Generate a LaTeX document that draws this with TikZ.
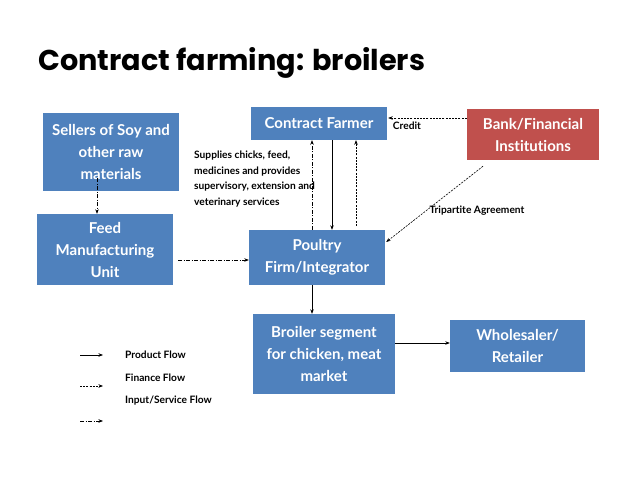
\documentclass[tikz,border=0pt]{standalone}
\usepackage{fontspec}
\setmainfont{Lato}[Ligatures={NoCommon}]
\newfontfamily\titlefont{Poppins}
\usetikzlibrary{arrows.meta,calc}
\definecolor{boxblue}{HTML}{4F81BD}
\definecolor{boxred}{HTML}{C0504D}
\tikzset{
  box/.style={fill=boxblue, text=white, align=center, inner sep=0pt,
    font=\bfseries\fontsize{15}{22}\selectfont},
  redbox/.style={box, fill=boxred},
  small/.style={font=\bfseries\fontsize{10.2}{15.5}\selectfont, inner sep=0pt},
  tip/.style={-{Stealth[length=4.5pt,width=3.5pt]}, line width=0.6pt},
  product/.style={tip},
  finance/.style={tip, dash pattern=on 2pt off 1.2pt},
  inflow/.style={tip, dash pattern=on 4pt off 1.5pt on 1pt off 1.5pt},
}
\begin{document}
\begin{tikzpicture}[x=1pt,y=-1pt]
\useasboundingbox (0,0) rectangle (638,479);
\node[anchor=base west, inner sep=0pt, font=\titlefont\bfseries\fontsize{28.7}{30}\selectfont] (title) at (38,70) {Contract farming: broilers};

\node[box, minimum width=136pt, minimum height=78pt] (sellers) at (111,152) {Sellers of Soy and\\other raw\\materials};
\node[box, minimum width=136pt, minimum height=71pt] (feed) at (105,249.5) {Feed\\Manufacturing\\Unit};
\node[box, minimum width=136pt, minimum height=33pt] (cf) at (319,123.5) {Contract Farmer};
\node[redbox, minimum width=132pt, minimum height=51pt] (bank) at (533,134.5) {Bank/Financial\\Institutions};
\node[box, minimum width=136pt, minimum height=55pt] (poultry) at (317,257.5) {Poultry\\Firm/Integrator};
\node[box, minimum width=142pt, minimum height=80pt] (broiler) at (324,354) {Broiler segment\\for chicken, meat\\market};
\node[box, minimum width=135pt, minimum height=52pt] (whole) at (517.5,346) {Wholesaler/\\Retailer};

\node[small, anchor=north west, align=left] (supplies) at (194,151) {Supplies chicks, feed,\\medicines and provides\\supervisory, extension and\\veterinary services};
\node[small] (credit) at (407,126) {Credit};
\node[small] (tri) at (477,211) {Tripartite Agreement};

% connectors
\draw[inflow] ([xshift=-14pt,yshift=13pt]sellers.south) -- ([xshift=-8pt]feed.north);
\draw[inflow] ($(feed.east)+(5,10.5)$) -- ($(poultry.west)+(0,2.5)$);
\draw[inflow] ([xshift=-5pt]poultry.north) -- ([xshift=-5pt]poultry.north |- cf.south);
\draw[product] ([xshift=15pt]poultry.north |- cf.south) -- ([xshift=15pt]poultry.north);
\draw[finance] ($(poultry.north)+(39,-4)$) -- ([xshift=39pt]poultry.north |- cf.south);
\draw[finance] ($(bank.west |- cf.east)+(0,-5.5)$) -- ($(cf.east)+(1,-5.5)$);
\draw[finance] ($(bank.south)+(-50,6)$) -- ($(poultry.east)+(1,-15.5)$);
\draw[product] ([xshift=-5pt]poultry.south) -- ([xshift=-5pt]poultry.south |- broiler.north);
\draw[product] ($(whole.west -| broiler.east)+(0,-3)$) -- ($(whole.west)+(0,-3)$);

% legend
\coordinate (l1a) at (80,355); \coordinate (l1b) at (103,355);
\coordinate (l2a) at (80,386); \coordinate (l2b) at (103,386);
\coordinate (l3a) at (80,421); \coordinate (l3b) at (103,421);
\draw[product] (l1a) -- (l1b);
\draw[finance] (l2a) -- (l2b);
\draw[inflow] (l3a) -- (l3b);
\node[small, anchor=west] (lp) at (125,355) {Product Flow};
\node[small, anchor=west] (lf) at (125,378) {Finance Flow};
\node[small, anchor=west] (li) at (125,401) {Input/Service Flow};
\end{tikzpicture}
\end{document}
